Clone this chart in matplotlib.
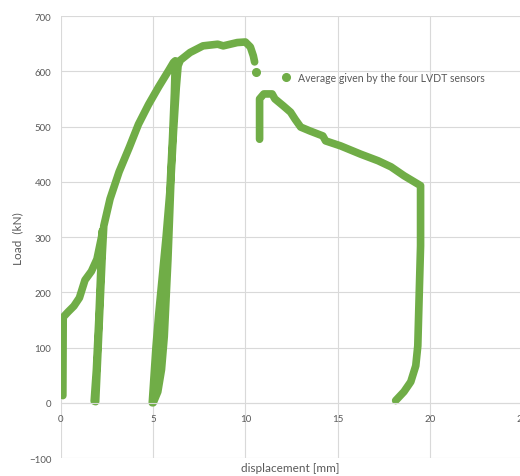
import numpy as np
import matplotlib.pyplot as plt
from matplotlib.lines import Line2D

plt.rcParams['font.family'] = ['Lato', 'DejaVu Sans']

# loading / unloading cycles up to the peak (mm, kN)
disp_1 = [0.1, 0.12, 0.4, 0.7, 1.0, 1.3, 1.65, 1.95, 2.2, 2.25,
          2.17, 2.05, 1.92, 1.8, 1.88, 2.0, 2.12, 2.24, 2.32, 2.66,
          3.15, 3.7, 4.2, 4.75, 5.3, 5.85, 6.1, 6.2,
          6.15, 6.05, 5.9, 5.7, 5.5, 5.3, 5.15, 5.05, 4.95,
          5.0, 5.25, 5.45, 5.6, 5.7, 5.8, 5.88, 5.97, 6.1, 6.25, 6.35, 6.47,
          7.0, 7.7, 8.5, 8.8, 9.56, 10.0, 10.27, 10.43, 10.5]
load_1 = [13, 155, 165, 175, 190, 222, 238, 260, 300, 312,
          250, 150, 60, 3, 2, 90, 180, 270, 320, 369,
          418, 462, 504, 540, 572, 602, 616, 619,
          560, 480, 380, 300, 230, 160, 100, 50, 0,
          0, 20, 60, 120, 190, 260, 330, 410, 490, 570, 610, 620,
          634, 646, 649, 646, 652, 653, 644, 628, 617]

# single reading after the first drop
disp_2 = [10.6]
load_2 = [599]

# post-peak branch and final unloading
disp_3 = [10.77, 10.77, 11.0, 11.45, 11.6, 12.07, 12.45, 12.7, 13.0, 13.5,
          14.2, 14.35, 15.16, 16.25, 17.2, 17.9, 18.6, 19.5, 19.5, 19.4,
          19.35, 19.24, 18.97, 18.6, 18.15]
load_3 = [477, 550, 559, 559, 550, 537, 526, 513, 499, 492,
          483, 474, 465, 450, 438, 427, 411, 393, 284, 164,
          103, 67, 38, 20, 4]

green = '#70ad47'
gray = '#595959'
grid_c = '#d9d9d9'

fig = plt.figure(figsize=(5.2, 4.77), dpi=100)
ax = fig.add_axes([0.1173, 0.0377, 0.8865, 0.9266])

kw = dict(color=green, lw=5.5, solid_capstyle='round', solid_joinstyle='round')
ax.plot(disp_1, load_1, **kw)
ax.plot(disp_3, load_3, **kw)
ax.plot(disp_2, load_2, 'o', color=green, ms=5.5)

ax.set_xlim(0, 25)
ax.set_ylim(-100, 700)
ax.set_xticks(np.arange(0, 26, 5))
ax.set_yticks(np.arange(-100, 701, 100))
ax.grid(True, color=grid_c, lw=0.8)
ax.set_axisbelow(True)

for s in ['top', 'right', 'left']:
    ax.spines[s].set_visible(False)
ax.spines['bottom'].set_position(('data', 0))
ax.spines['bottom'].set_color(grid_c)
ax.spines['bottom'].set_linewidth(0.8)

ax.tick_params(length=0, labelsize=7, labelcolor=gray)
ax.tick_params(axis='x', pad=8)
ax.tick_params(axis='y', pad=7)

fig.text(0.558, 0.018, 'displacement [mm]', ha='center', va='center',
         fontsize=8.5, color=gray)
fig.text(0.035, 0.5, 'Load  (kN)', ha='center', va='center', rotation=90,
         fontsize=8.5, color=gray)

handle = Line2D([], [], marker='o', ls='', color=green, ms=5.5)
ax.legend([handle], ['Average given by the four LVDT sensors'],
          loc='center left', bbox_to_anchor=(0.512, 0.836),
          bbox_transform=fig.transFigure, frameon=False, fontsize=7.6,
          handletextpad=0.1, labelcolor=gray)

fig.savefig('out.png', dpi=100)
